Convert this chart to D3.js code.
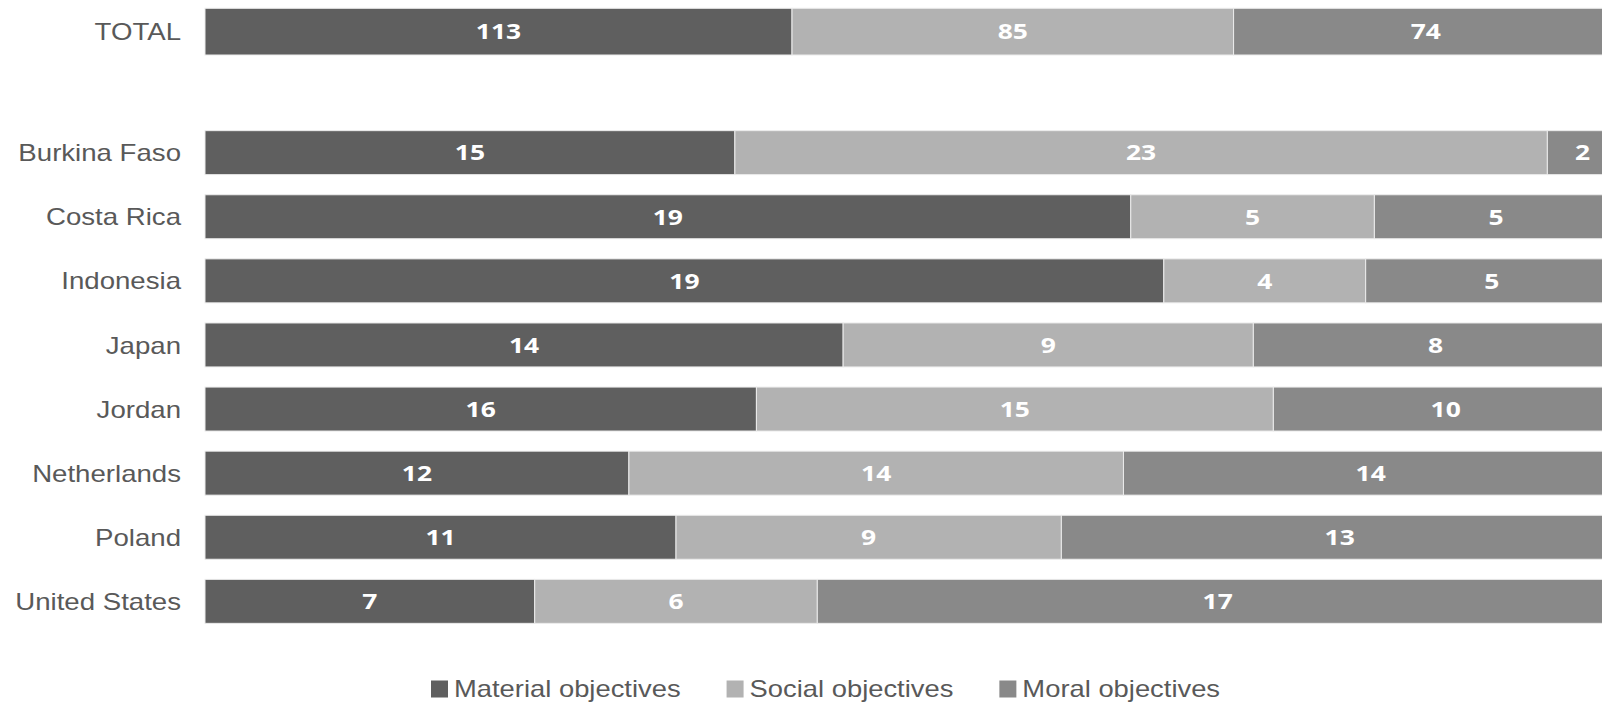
<!DOCTYPE html>
<html>
<head>
<meta charset="utf-8">
<script src="https://cdn.jsdelivr.net/npm/d3@7"></script>
<style>
    body { margin: 0; background: #ffffff; }
    svg { display: block; }
</style>
</head>
<body>
<div class="chart"></div>
<script>
//categories and values
var totalLabel = "TOTAL";
var totalValues = [113, 85, 74];

var countries = ["Burkina Faso", "Costa Rica", "Indonesia", "Japan", "Jordan",
    "Netherlands", "Poland", "United States"];
var material = [15, 19, 19, 14, 16, 12, 11, 7];
var social = [23, 5, 4, 9, 15, 14, 9, 6];
var moral = [2, 5, 5, 8, 10, 14, 13, 17];

var seriesNames = ["Material objectives", "Social objectives", "Moral objectives"];
var seriesColors = ["#5f5f5f", "#b2b2b2", "#898989"];

function chart() {

    var width = 1602,
        height = 704;

    //text in the picture is a bit wider than the fonts give
    function stretch(sel, k) {
        sel.each(function () {
            var len = this.getComputedTextLength();
            d3.select(this)
                .attr("textLength", len * k)
                .attr("lengthAdjust", "spacingAndGlyphs");
        });
    }

    //build rows: one per category, stacked share of the row total
    var rows = [{ name: totalLabel, values: totalValues }];
    countries.forEach(function (c, i) {
        rows.push({ name: c, values: [material[i], social[i], moral[i]] });
    });
    rows.forEach(function (r) {
        var sum = d3.sum(r.values), acc = 0;
        r.segs = r.values.map(function (v, j) {
            var s = { v: v, i: j, x0: acc / sum, x1: (acc + v) / sum };
            acc += v;
            return s;
        });
    });

    //x runs past the right edge, the chart is cut there
    var xScale = d3.scaleLinear().domain([0, 1]).range([205, 1618]);

    //countries share one band scale, TOTAL sits above on its own
    var yScale = d3.scaleBand().domain(countries)
        .range([120.6, 633.4]).paddingInner(0.314).paddingOuter(0.157);
    var yTotal = d3.scaleBand().domain([totalLabel]).range([8.3, 55]);

    function yPos(name) {
        return name === totalLabel ? yTotal(name) : yScale(name);
    }
    function bandH(name) {
        return name === totalLabel ? yTotal.bandwidth() : yScale.bandwidth();
    }

    var svg = d3.select(".chart").append("svg")
        .attr("width", width)
        .attr("height", height);

    var row = svg.selectAll(".row")
        .data(rows)
        .enter().append("g")
        .attr("class", "row")
        .attr("transform", function (d) {
            return "translate(0," + yPos(d.name) + ")";
        });

    // draw stacked segments
    row.selectAll("rect")
        .data(function (d) { return d.segs.map(function (s) { s.h = bandH(d.name); return s; }); })
        .enter().append("rect")
        .attr("x", function (d) { return xScale(d.x0); })
        .attr("width", function (d) { return xScale(d.x1) - xScale(d.x0); })
        .attr("y", 0)
        .attr("height", function (d) { return d.h; })
        .style("fill", function (d) { return seriesColors[d.i]; })
        .style("stroke", "#ececec")
        .style("stroke-width", 1);

    // value labels in the middle of each segment
    row.selectAll(".val")
        .data(function (d) { return d.segs; })
        .enter().append("text")
        .attr("class", "val")
        .attr("x", function (d) { return (xScale(d.x0) + xScale(d.x1)) / 2; })
        .attr("y", function (d) { return d.h / 2 + 7.8; })
        .style("text-anchor", "middle")
        .style("font-family", "'Open Sans', sans-serif")
        .style("font-weight", "bold")
        .style("font-size", "22px")
        .style("fill", "#ffffff")
        .text(function (d) { return d.v; })
        .call(stretch, 1.2);

    // category labels
    row.append("text")
        .attr("x", 181)
        .attr("y", function (d) { return bandH(d.name) / 2 + 8.6; })
        .style("text-anchor", "end")
        .style("font-family", "'Liberation Sans', Arial, sans-serif")
        .style("font-size", "24px")
        .style("fill", "#595959")
        .text(function (d) { return d.name; })
        .call(stretch, 1.15);

    // draw legend
    var legend = svg.append("g").attr("class", "legend");
    var lx = 431;
    seriesNames.forEach(function (name, i) {
        var g = legend.append("g").attr("transform", "translate(" + lx + ",0)");
        g.append("rect")
            .attr("x", 0)
            .attr("y", 680.5)
            .attr("width", 17)
            .attr("height", 17)
            .style("fill", seriesColors[i]);
        var t = g.append("text")
            .attr("x", 23)
            .attr("y", 697)
            .style("font-family", "'Liberation Sans', Arial, sans-serif")
            .style("font-size", "24px")
            .style("fill", "#595959")
            .text(name)
            .call(stretch, 1.14);
        lx += 23 + +t.attr("textLength") + 46;
    });
}

chart();
</script>
</body>
</html>
